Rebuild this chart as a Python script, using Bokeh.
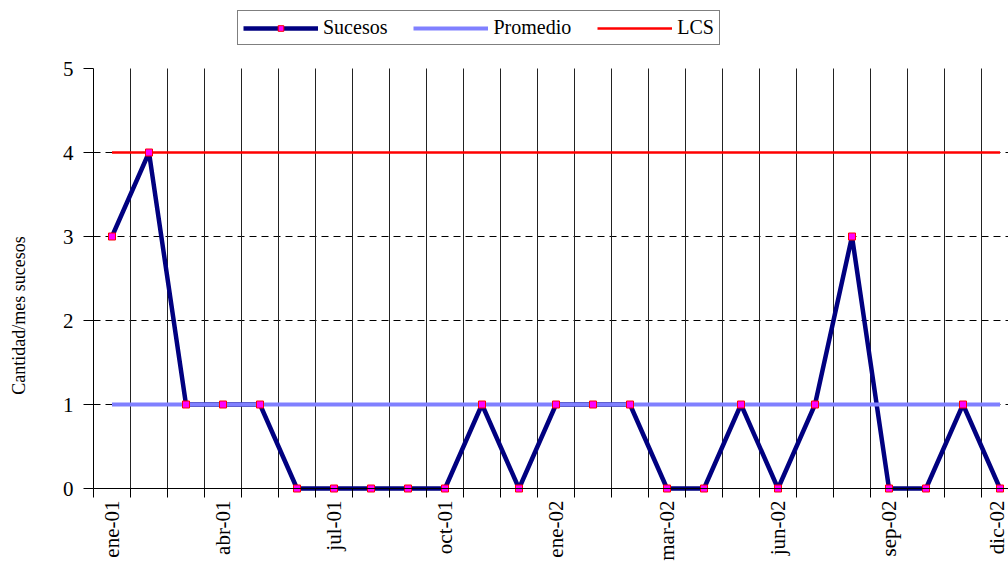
import math
from bokeh.plotting import figure
from bokeh.models import Range1d, FixedTicker, Legend, LegendItem, Label
from bokeh.embed import file_html
from bokeh.resources import INLINE

# ---- data ----
sucesos = [3, 4, 1, 1, 1, 0, 0, 0, 0, 0, 1, 0, 1, 1, 1, 0, 0, 1, 0, 1, 3, 0, 0, 1, 0]
promedio = [1] * 25
lcs = [4] * 25
tick_labels = ["ene-01", "abr-01", "jul-01", "oct-01", "ene-02",
               "mar-02", "jun-02", "sep-02", "dic-02"]
y_ticks = [0, 1, 2, 3, 4, 5]

x = list(range(len(sucesos)))
label_pos = list(range(0, len(sucesos), 3))
boundaries = [i - 0.5 for i in range(len(sucesos) + 1)]
y_min, y_max = y_ticks[0], y_ticks[-1]

SERIF = "Liberation Serif"

# ---- layout (pixels) ----
W, H = 1008, 563
AXIS_X, AXIS_TOP, AXIS_BOTTOM = 93, 68, 488
CAT_PX = 37
PX_PER_UNIT = (AXIS_BOTTOM - AXIS_TOP) / (y_max - y_min)
x_first = boundaries[0]
x_end = x_first + (W - AXIS_X) / CAT_PX
x_start = x_first - AXIS_X / CAT_PX
y_top = y_max + AXIS_TOP / PX_PER_UNIT
y_bottom = y_min - (H - AXIS_BOTTOM) / PX_PER_UNIT

p = figure(width=W, height=H, output_backend="svg", toolbar_location=None,
           x_range=Range1d(x_start, x_end), y_range=Range1d(y_bottom, y_top),
           min_border_left=0, min_border_right=0, min_border_top=0,
           min_border_bottom=0)
p.outline_line_color = None
p.background_fill_color = "white"
p.border_fill_color = "white"
p.xgrid.visible = False
p.ygrid.visible = False

# x axis: labels at every third category, ticks at category boundaries
xa = p.xaxis[0]
xa.fixed_location = y_min
xa.bounds = (x_first, x_end)
xa.ticker = FixedTicker(ticks=label_pos, minor_ticks=boundaries)
xa.major_label_overrides = {pos: lab for pos, lab in zip(label_pos, tick_labels)}
xa.major_label_orientation = math.pi / 2
xa.major_tick_out = 0
xa.major_tick_in = 0
xa.minor_tick_out = 9
xa.minor_tick_in = 0
xa.minor_tick_line_color = "black"
xa.axis_line_color = "black"
xa.major_label_text_font = SERIF
xa.major_label_text_font_size = "21px"
xa.major_label_text_color = "black"
xa.major_label_standoff = 3

ya = p.yaxis[0]
ya.fixed_location = x_first
ya.bounds = (y_min, y_max)
ya.ticker = FixedTicker(ticks=y_ticks)
ya.major_tick_out = 10
ya.major_tick_in = 0
ya.minor_tick_line_color = None
ya.axis_line_color = "black"
ya.major_tick_line_color = "black"
ya.major_label_text_font = SERIF
ya.major_label_text_font_size = "21px"
ya.major_label_text_color = "black"
ya.major_label_standoff = 10

# horizontal dashed grid (inner ticks) and vertical category separators
inner = y_ticks[1:-1]
p.segment(x0=[x_first] * len(inner), y0=inner, x1=[x_end] * len(inner), y1=inner,
          line_color="black", line_width=1, line_dash="7 5")
seps = boundaries[1:]
p.segment(x0=seps, y0=[y_min] * len(seps), x1=seps, y1=[y_max] * len(seps),
          line_color="#222222", line_width=1)

r_line = p.line(x, sucesos, line_color="#000080", line_width=4.5)
r_prom = p.line(x, promedio, line_color="#8080FF", line_width=4)
r_lcs = p.line(x, lcs, line_color="#FF0000", line_width=2.5)
r_mk = p.scatter(x, sucesos, marker="square", size=7, fill_color="#FF00FF",
                 line_color="#FF0000", line_width=1)

legend = Legend(items=[
    LegendItem(label="Sucesos", renderers=[r_line, r_mk]),
    LegendItem(label="Promedio", renderers=[r_prom]),
    LegendItem(label="LCS", renderers=[r_lcs]),
], orientation="horizontal", location=(237, H - 45))
legend.glyph_width = 75
legend.glyph_height = 14
legend.label_height = 20
legend.label_standoff = 5
legend.spacing = 26
legend.padding = 5
legend.margin = 0
legend.border_line_color = "black"
legend.border_line_width = 1
legend.background_fill_color = "white"
legend.background_fill_alpha = 1
legend.label_text_font = SERIF
legend.label_text_font_size = "20px"
legend.label_text_color = "black"
p.add_layout(legend)

ylab = Label(x=18, y=H - 315, x_units="screen", y_units="screen",
             text="Cantidad/mes sucesos", angle=math.pi / 2,
             text_align="center", text_baseline="middle",
             text_font=SERIF, text_font_size="18px", text_color="black")
p.add_layout(ylab)

open("out.html", "w").write(file_html(p, INLINE))
